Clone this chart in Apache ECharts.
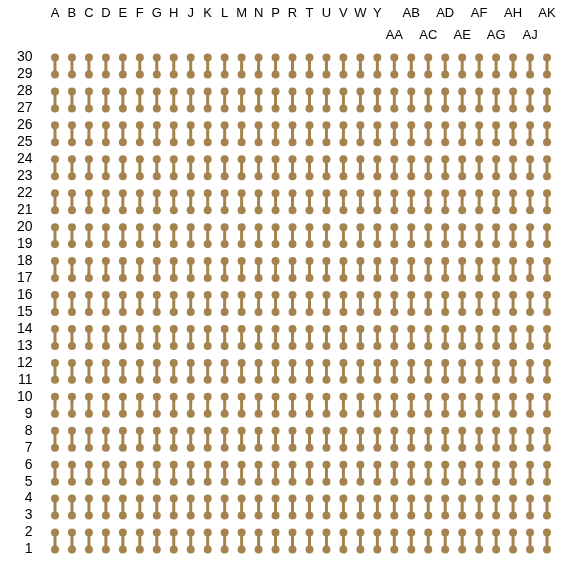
<!DOCTYPE html>
<html>
<head>
<meta charset="utf-8">
<script src="https://cdn.jsdelivr.net/npm/echarts@6/dist/echarts.min.js"></script>
<style>
    html, body {margin:0;padding:0;background:#fff;}
    #chart {width:567px;height:561px;}
</style>
</head>
<body>
<div id="chart"></div>
<script>
    // column letters (I, O, Q, S, X, Z skipped)
    var columns = ['A','B','C','D','E','F','G','H','J','K','L','M','N','P','R','T','U','V','W','Y',
                   'AA','AB','AC','AD','AE','AF','AG','AH','AJ','AK'];
    var rows = [];
    for (var r = 1; r <= 30; r++) rows.push(String(r));
    // each dumbbell joins an even row (top pad) with the odd row below it
    var topRows    = ['30','28','26','24','22','20','18','16','14','12','10','8','6','4','2'];
    var bottomRows = ['29','27','25','23','21','19','17','15','13','11','9','7','5','3','1'];
    // labels pushed to the lower line to avoid overlap
    var lowerLabels = ['AA','AC','AE','AG','AJ'];

    var data = [];
    columns.forEach(function (c, ci) {
        topRows.forEach(function (t, k) {
            data.push([ci, rows.indexOf(t), rows.indexOf(bottomRows[k])]);
        });
    });

    var padColor = '#a5834e';
    var chart = echarts.init(document.getElementById('chart'));
    var option = {
        animation: false,
        grid: {left: 46.5, right: 11.5, top: 49, bottom: 3},
        xAxis: {
            type: 'category',
            position: 'top',
            data: columns,
            axisLine: {show: false},
            axisTick: {show: false},
            splitLine: {show: false},
            axisLabel: {
                interval: 0,
                hideOverlap: false,
                margin: 3,
                color: '#000',
                fontSize: 13,
                fontFamily: 'Liberation Sans, Arial, sans-serif',
                lineHeight: 22,
                formatter: function (v) {
                    return lowerLabels.indexOf(v) >= 0 ? v : v + '\n';
                }
            }
        },
        yAxis: {
            type: 'category',
            data: rows,
            axisLine: {show: false},
            axisTick: {show: false},
            splitLine: {show: false},
            axisLabel: {
                interval: 0,
                margin: 14,
                color: '#000',
                fontSize: 14,
                fontFamily: 'Liberation Sans, Arial, sans-serif'
            }
        },
        series: [{
            type: 'custom',
            data: data,
            renderItem: function (params, api) {
                var p1 = api.coord([api.value(0), api.value(1)]);
                var p2 = api.coord([api.value(0), api.value(2)]);
                return {
                    type: 'group',
                    children: [
                        {type: 'line', shape: {x1: p1[0], y1: p1[1], x2: p2[0], y2: p2[1]},
                         style: {stroke: padColor, lineWidth: 3}},
                        {type: 'circle', shape: {cx: p1[0], cy: p1[1], r: 4}, style: {fill: padColor}},
                        {type: 'circle', shape: {cx: p2[0], cy: p2[1], r: 4}, style: {fill: padColor}}
                    ]
                };
            }
        }]
    };
    chart.setOption(option);
</script>
</body>
</html>
